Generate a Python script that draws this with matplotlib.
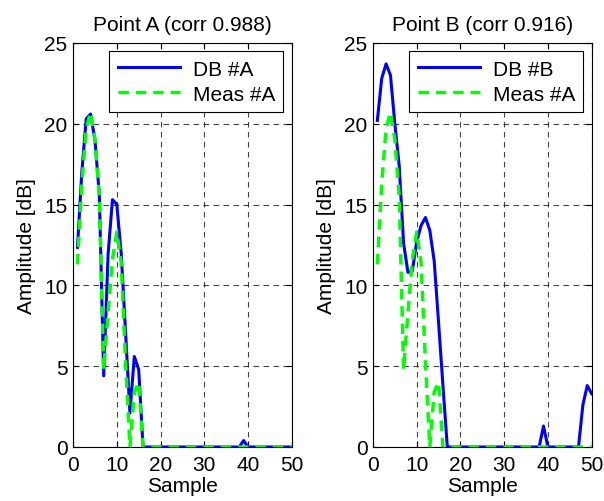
import matplotlib
matplotlib.use("Agg")
import matplotlib.pyplot as plt
import numpy as np

plt.rcParams['font.family'] = ['Liberation Sans', 'DejaVu Sans']

samples = list(range(1, 51))

meas_a = [11.3, 16.3, 19.7, 20.7, 19.0, 15.5, 4.8, 8.3, 11.6, 13.3,
          11.4, 5.2, 0.0, 3.4, 4.0, 0.0] + [0.0] * 34

db_a = [12.35, 17.0, 20.3, 20.6, 19.0, 15.6, 4.4, 11.9, 15.3, 15.0,
        12.0, 7.1, 2.1, 5.6, 4.8, 0.0] + [0.0] * 22 + [0.4] + [0.0] * 11

db_b = [20.2, 22.8, 23.7, 23.0, 20.0, 17.4, 12.6, 10.8, 10.9, 12.7,
        13.7, 14.2, 13.4, 11.5, 7.7, 3.8, 0.0] + [0.0] * 21 + [1.3] + [0.0] * 8 + [2.6, 3.8, 3.3]

titles = ["Point A (corr 0.988)", "Point B (corr 0.916)"]
db_labels = ["DB #A", "DB #B"]
meas_label = "Meas #A"
xticks = [0, 10, 20, 30, 40, 50]
yticks = [0, 5, 10, 15, 20, 25]

fig = plt.figure(figsize=(6.04, 5.02), dpi=100)
positions = [[0.121, 0.1076, 0.362, 0.805], [0.6175, 0.1076, 0.362, 0.805]]
fs = 15

for pos, db, title, dbl in zip(positions, [db_a, db_b], titles, db_labels):
    ax = fig.add_axes(pos)
    ax.plot(samples, db, color='#0000ff', lw=2.2, label=dbl, zorder=3)
    ax.plot(samples, meas_a, color='#00ff00', lw=2.5, ls=(0, (3, 2)), label=meas_label, zorder=4)
    ax.set_xlim(0, 50)
    ax.set_ylim(0, 25)
    ax.set_xticks(xticks)
    ax.set_yticks(yticks)
    ax.tick_params(direction='in', labelsize=fs, length=4, width=0.8, top=True, right=True)
    ax.tick_params(axis='x', pad=6)
    ax.tick_params(axis='y', pad=4)
    ax.grid(True, color='#222222', ls=(0, (5, 4)), lw=0.8, alpha=0.85)
    for s in ax.spines.values():
        s.set_linewidth(0.8)
    ax.set_title(title, fontsize=fs, pad=9)
    ax.set_xlabel("Sample", fontsize=fs, labelpad=1)
    ax.set_ylabel("Amplitude [dB]", fontsize=fs, labelpad=6)
    leg = ax.legend(loc='upper right', fontsize=fs, fancybox=False, framealpha=1,
                    edgecolor='black', handlelength=3.0, borderaxespad=0.4,
                    labelspacing=0.3, borderpad=0.4, handletextpad=0.6)
    leg.get_frame().set_linewidth(0.8)

fig.savefig("out.png", dpi=100)
